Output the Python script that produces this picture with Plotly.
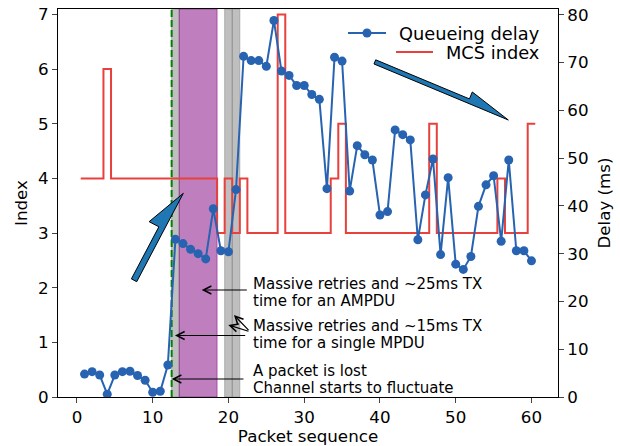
import numpy as np
import plotly.graph_objects as go

# ---------------- data ----------------
packets = list(range(1, 61))
queue_delay_ms = [4.8, 5.3, 4.6, 0.6, 4.6, 5.3, 5.4, 4.5, 3.5, 1.0,
                  1.2, 6.7, 33.0, 32.1, 30.9, 30.0, 28.9, 39.4, 30.6, 30.4,
                  43.4, 71.3, 70.4, 70.4, 69.2, 78.8, 68.2, 67.3, 65.2, 65.2,
                  63.3, 62.3, 43.6, 71.1, 70.3, 43.1, 52.6, 50.7, 49.6, 38.1,
                  38.8, 55.9, 54.9, 53.8, 32.9, 42.3, 49.8, 29.8, 45.9, 27.8,
                  26.7, 29.4, 39.9, 44.4, 46.3, 32.6, 49.6, 30.6, 30.6, 28.5]
mcs_index = [4, 4, 4, 6, 4, 4, 4, 4, 4, 4,
             4, 4, 4, 4, 4, 4, 4, 4, 3, 4,
             3, 4, 3, 3, 3, 3, 7, 3, 3, 3,
             3, 3, 3, 4, 5, 3, 3, 3, 3, 3,
             3, 3, 3, 3, 3, 3, 5, 3, 3, 3,
             3, 3, 3, 3, 3, 4, 3, 3, 3, 5]
x_ticks = [0, 10, 20, 30, 40, 50, 60]
index_ticks = [0, 1, 2, 3, 4, 5, 6, 7]
delay_ticks = [0, 10, 20, 30, 40, 50, 60, 70, 80]

lost_packet_x = 12.5
gray_spans = [(12.5, 13.5), (19.5, 20.5), (20.5, 21.5)]
purple_spans = [(13.5, 18.5)]

notes = [
    ("Massive retries and ~25ms TX", 2.059),
    ("time for an AMPDU", 1.751),
    ("Massive retries and ~15ms TX", 1.299),
    ("time for a single MPDU", 0.988),
    ("A packet is lost", 0.476),
    ("Channel starts to fluctuate", 0.165),
]
note_x = 23.0
# (head, tail) of thin arrows, data coords (x, Index)
note_arrows = [
    ((16.47, 1.958), (22.62, 1.958)),
    ((12.94, 1.125), (22.41, 1.125)),
    ((20.73, 1.500), (22.84, 1.195)),
    ((19.98, 1.317), (22.84, 1.195)),
    ((12.51, 0.329), (22.18, 0.329)),
]
# big half arrows: tail, tip (data coords), head length, head half width, shaft width (px)
big_arrows = [
    ((7.89, 2.11), (14.04, 3.727), 41, 17, 6),
    ((39.21, 6.094), (56.94, 5.069), 44, 12, 4.5),
]

# ---------------- layout geometry ----------------
W, H = 620, 446
ML, MR, MT, MB = 58, 62, 9, 49
PW, PH = W - ML - MR, H - MT - MB
XR = [-2.5, 63.5]
YR = [0, 7.1]
Y2R = [0, 81.2]

FONT = "DejaVu Sans"
BLUE = "#2763b0"
RED = "#e8403c"


def to_px(x, y):
    return (ML + (x - XR[0]) / (XR[1] - XR[0]) * PW,
            MT + PH - (y - YR[0]) / (YR[1] - YR[0]) * PH)


def to_data(px, py):
    return (XR[0] + (px - ML) / PW * (XR[1] - XR[0]),
            YR[0] + (MT + PH - py) / PH * (YR[1] - YR[0]))


def half_arrow_path(tail, tip, hl, hw, w):
    T = np.array(to_px(*tail))
    P = np.array(to_px(*tip))
    u = (P - T) / np.linalg.norm(P - T)
    n = np.array([u[1], -u[0]])
    pts = [P, P - hl * u + hw * n, P - hl * u + w * n, T + w * n, T]
    d = [to_data(*p) for p in pts]
    return "M " + " L ".join(f"{a:.4f},{b:.4f}" for a, b in d) + " Z"


fig = go.Figure()

# MCS index step line (steps-mid)
px_arr = np.array(packets, dtype=float)
edges = np.append(px_arr - 0.5, px_arr[-1] + 0.5)
mcs_vals = np.append(np.array(mcs_index, dtype=float), mcs_index[-1])
fig.add_trace(go.Scatter(x=edges, y=mcs_vals, mode="lines", line_shape="hv",
                         line=dict(color=RED, width=2), name="MCS index",
                         showlegend=False, yaxis="y"))

# Queueing delay
fig.add_trace(go.Scatter(x=packets, y=queue_delay_ms, mode="lines+markers",
                         line=dict(color=BLUE, width=2),
                         marker=dict(color=BLUE, size=9),
                         name="Queueing delay", showlegend=False, yaxis="y2"))

shapes = []
for a, b in gray_spans:
    shapes.append(dict(type="rect", xref="x", yref="paper", x0=a, x1=b, y0=0, y1=1,
                       fillcolor="rgba(128,128,128,0.5)",
                       line=dict(color="rgba(128,128,128,0.5)", width=1), layer="below"))
for a, b in purple_spans:
    shapes.append(dict(type="rect", xref="x", yref="paper", x0=a, x1=b, y0=0, y1=1,
                       fillcolor="rgba(128,0,128,0.5)",
                       line=dict(color="rgba(128,0,128,0.5)", width=1), layer="below"))
shapes.append(dict(type="line", xref="x", yref="paper", x0=lost_packet_x, x1=lost_packet_x,
                   y0=0, y1=1, line=dict(color="green", width=2, dash="7px,3px"), layer="below"))

for tail, tip, hl, hw, w in big_arrows:
    shapes.append(dict(type="path", xref="x", yref="y", path=half_arrow_path(tail, tip, hl, hw, w),
                       fillcolor="#1f77b4", line=dict(color="black", width=1), layer="above"))


# manual legend (right aligned rows)
def pxx(p):
    return (p - ML) / PW


def pxy(p):
    return (MT + PH - p) / PH


shapes.append(dict(type="line", xref="paper", yref="paper", x0=pxx(348), x1=pxx(386),
                   y0=pxy(33), y1=pxy(33), line=dict(color=BLUE, width=2)))
shapes.append(dict(type="circle", xref="paper", yref="paper", xsizemode="pixel", ysizemode="pixel",
                   xanchor=pxx(367), yanchor=pxy(33), x0=-4.5, x1=4.5, y0=-4.5, y1=4.5,
                   fillcolor=BLUE, line=dict(color=BLUE, width=0)))
shapes.append(dict(type="line", xref="paper", yref="paper", x0=pxx(396), x1=pxx(433),
                   y0=pxy(52), y1=pxy(52), line=dict(color=RED, width=2)))

annotations = []
annotations.append(dict(text="Queueing delay", xref="paper", yref="paper", x=pxx(541), y=pxy(33),
                        xanchor="right", yanchor="middle", showarrow=False,
                        font=dict(family=FONT, size=17.8, color="black")))
annotations.append(dict(text="MCS index", xref="paper", yref="paper", x=pxx(541), y=pxy(52),
                        xanchor="right", yanchor="middle", showarrow=False,
                        font=dict(family=FONT, size=17.8, color="black")))

for txt, yy in notes:
    annotations.append(dict(text=txt, xref="x", yref="y", x=note_x, y=yy, xanchor="left",
                            yanchor="middle", showarrow=False,
                            font=dict(family=FONT, size=15, color="black")))
for (hx, hy), (tx, ty) in note_arrows:
    annotations.append(dict(text="", xref="x", yref="y", x=hx, y=hy, axref="x", ayref="y",
                            ax=tx, ay=ty, showarrow=True, arrowhead=5, arrowsize=1.3,
                            arrowwidth=1.2, arrowcolor="black", standoff=0, startstandoff=0))

fig.update_layout(
    width=W, height=H, margin=dict(l=ML, r=MR, t=MT, b=MB, autoexpand=False),
    paper_bgcolor="white", plot_bgcolor="white",
    font=dict(family=FONT, size=16.7, color="black"),
    showlegend=False,
    xaxis=dict(range=XR, tickvals=x_ticks, ticks="outside", ticklen=5, tickwidth=1,
               showline=True, linecolor="black", linewidth=1, mirror=True,
               showgrid=False, zeroline=False,
               title=dict(text="Packet sequence", standoff=5, font=dict(size=16.7))),
    yaxis=dict(range=YR, tickvals=index_ticks, ticks="outside", ticklen=5, tickwidth=1,
               showline=True, linecolor="black", linewidth=1,
               showgrid=False, zeroline=False,
               title=dict(text="Index", standoff=6, font=dict(size=16.7))),
    yaxis2=dict(range=Y2R, tickvals=delay_ticks, ticks="outside", ticklen=5, tickwidth=1,
                overlaying="y", side="right", anchor="x",
                showline=True, linecolor="black", linewidth=1,
                showgrid=False, zeroline=False,
                title=dict(text="Delay (ms)", standoff=10, font=dict(size=16.7))),
    shapes=shapes, annotations=annotations,
)

fig.write_html("out.html", config={"displayModeBar": False},
               post_script="document.body.style.margin='0';document.body.style.padding='0';")
